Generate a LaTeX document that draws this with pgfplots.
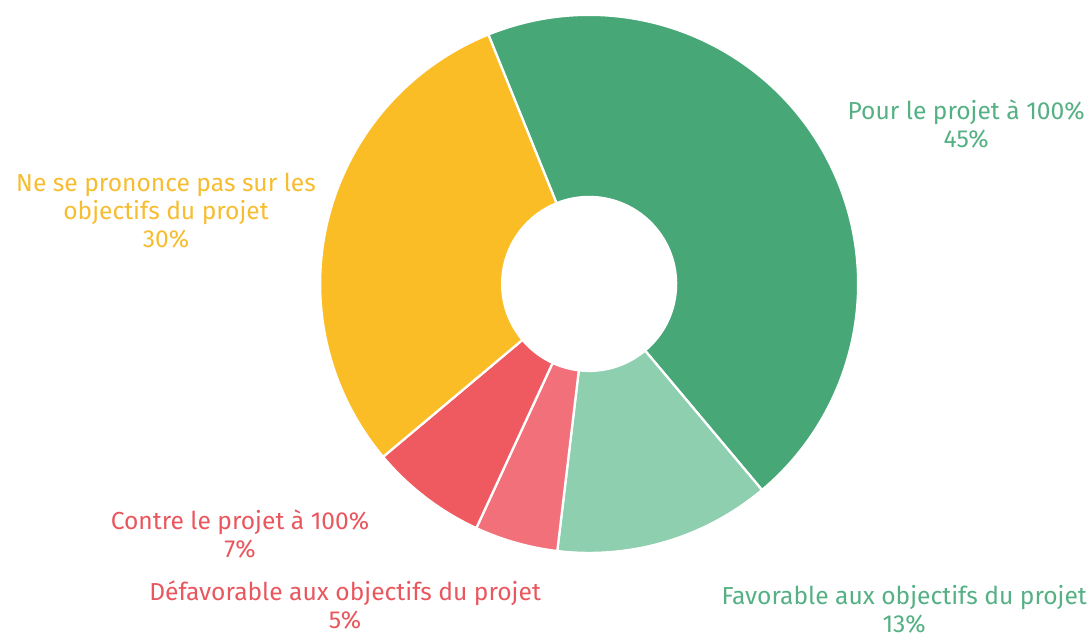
\documentclass[border=0pt]{standalone}
\usepackage{pgfplots}
\usepackage{pgfplotstable}
\pgfplotsset{compat=1.18}
\usepackage{fontspec}
\setmainfont{Fira Sans}
\definecolor{cgreen}{HTML}{47A777}
\definecolor{clight}{HTML}{8DCFAF}
\definecolor{cpink}{HTML}{F2707A}
\definecolor{cred}{HTML}{EE5A60}
\definecolor{cyellow}{HTML}{FBBD26}
\definecolor{tgreen}{HTML}{55B083}
\definecolor{tyellow}{HTML}{F6BD30}
\definecolor{tred}{HTML}{E9575E}

\pgfplotstableread{
label value
pour 45
favorable 13
defavorable 5
contre 7
neutre 30
}\piedata

\pgfplotstablegetelem{0}{value}\of\piedata \let\va\pgfplotsretval
\pgfplotstablegetelem{1}{value}\of\piedata \let\vb\pgfplotsretval
\pgfplotstablegetelem{2}{value}\of\piedata \let\vc\pgfplotsretval
\pgfplotstablegetelem{3}{value}\of\piedata \let\vd\pgfplotsretval
\pgfplotstablegetelem{4}{value}\of\piedata \let\ve\pgfplotsretval
\pgfmathsetmacro\aA{112}
\pgfmathsetmacro\aB{\aA-3.6*\va}
\pgfmathsetmacro\aC{\aB-3.6*\vb}
\pgfmathsetmacro\aD{\aC-3.6*\vc}
\pgfmathsetmacro\aE{\aD-3.6*\vd}
\pgfmathsetmacro\aF{\aE-3.6*\ve}

\newcommand\slice[3]{%
  \fill[#3,draw=white,line width=1.3pt,line join=round]
    (axis cs:589,359) ++(#1:5.38cm) arc[start angle=#1,end angle=#2,radius=5.38cm]
    -- ([shift={(#2:1.74cm)}]axis cs:589,359)
    arc[start angle=#2,end angle=#1,radius=1.74cm] -- cycle;}

\begin{document}
\begin{tikzpicture}
\begin{axis}[
  x=0.02cm, y=0.02cm,
  xmin=0, xmax=1091, ymin=0, ymax=643,
  hide axis, clip=false,
]
\slice{\aA}{\aB}{cgreen}
\slice{\aB}{\aC}{clight}
\slice{\aC}{\aD}{cpink}
\slice{\aD}{\aE}{cred}
\slice{\aE}{\aF}{cyellow}
\begin{scope}[every node/.style={align=center,font=\fontsize{14}{16}\selectfont}]
\node[text=tgreen] at (axis cs:966,519) {Pour le projet à 100\%\\45\%};
\node[text=tyellow] at (axis cs:166,432) {Ne se prononce pas sur les\\objectifs du projet\\30\%};
\node[text=tred] at (axis cs:240,109) {Contre le projet à 100\%\\7\%};
\node[text=tred] at (axis cs:345,38) {Défavorable aux objectifs du projet\\5\%};
\node[text=tgreen] at (axis cs:904,34) {Favorable aux objectifs du projet\\13\%};
\end{scope}
\end{axis}
\pgfresetboundingbox
\path (0,0) rectangle (21.82cm,12.86cm);
\end{tikzpicture}
\end{document}
